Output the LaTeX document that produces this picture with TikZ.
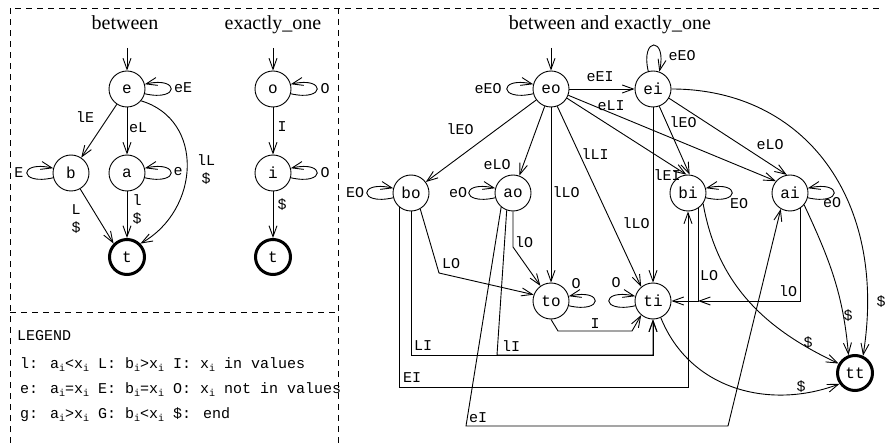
\documentclass[tikz,border=0pt]{standalone}
\usepackage{fontspec}
\setmainfont{Liberation Serif}
\newfontfamily\monofont{Liberation Mono}
\usetikzlibrary{arrows.meta}
\newcommand\sbi{\raisebox{-3pt}{\fontsize{10}{10}\selectfont i}}
\tikzset{
  st/.style={circle, draw, line width=0.9pt, minimum size=36pt, inner sep=0pt,
    font=\monofont\fontsize{16}{16}\selectfont},
  fin/.style={st, line width=3pt, minimum size=35pt},
  lbl/.style={font=\monofont\fontsize{15}{18}\selectfont, inner sep=0pt, align=center},
  arr/.style={-{Straight Barb[length=11pt,width=8pt]}, line width=0.9pt},
  panel/.style={line width=0.8pt, dash pattern=on 6pt off 5pt},
  ttl/.style={font=\fontsize{20}{24}\selectfont, anchor=base, inner sep=0pt},
  leg/.style={font=\monofont\fontsize{15}{18}\selectfont, anchor=base west, inner sep=0pt}
}
\begin{document}
\begin{tikzpicture}[x=1pt,y=-1pt]
\useasboundingbox (0,0) rectangle (890,443);
% panels
\draw[panel] (10,443) -- (10,8) -- (883,8);
\draw[panel] (338,8) -- (338,443);
\draw[panel] (10,312) -- (338,312);
% titles
\node[ttl] (t1) at (125,30) {between};
\node[ttl] (t2) at (273,30) {exactly\_one};
\node[ttl] (t3) at (610,30) {between and exactly\_one};
% legend
\node[leg] (lg0) at (17,340) {LEGEND};
\node[leg] (lg1) at (20,368) {l: a\sbi<x\sbi{} L: b\sbi>x\sbi{} I: x\sbi{} in values};
\node[leg] (lg2) at (20,393) {e: a\sbi=x\sbi{} E: b\sbi=x\sbi{} O: x\sbi{} not in values};
\node[leg] (lg3) at (20,418) {g: a\sbi>x\sbi{} G: b\sbi<x\sbi{} \$: end};

% ---------- between ----------
\node[st] (e) at (127,89) {e};
\node[st] (b) at (71,173) {b};
\node[st] (a) at (127,173) {a};
\node[fin] (t) at (127,257) {t};
\coordinate (ein) at (127,48);
\draw[arr] (ein) -- (e);
\draw[arr] (e.-15) .. controls +(35,8) and +(35,-8) .. (e.15) node[lbl, at={(183,88)}] {eE};
\draw[arr] (b.195) .. controls +(-35,8) and +(-35,-8) .. (b.165) node[lbl, at={(19,173)}] {E};
\draw[arr] (a.-15) .. controls +(35,8) and +(35,-8) .. (a.15) node[lbl, at={(178,172)}] {e};
\draw[arr] (e) -- (b) node[lbl, at={(85,117)}] {lE};
\draw[arr] (e) -- (a) node[lbl, at={(138,128)}] {eL};
\draw[arr] (e.-40) .. controls (205,120) and (200,210) .. (t.45) node[lbl, at={(206,170)}] {lL\\\$};
\draw[arr] (b.-60) -- (t.135) node[lbl, at={(76,219)}] {L\\\$};
\draw[arr] (a) -- (t) node[lbl, at={(137,210)}] {l\\\$};

% ---------- exactly_one ----------
\node[st] (o) at (273,89) {o};
\node[st] (i) at (273,173) {i};
\node[fin] (t2n) at (273,257) {t};
\coordinate (oin) at (273,48);
\draw[arr] (oin) -- (o);
\draw[arr] (o.-15) .. controls +(35,8) and +(35,-8) .. (o.15) node[lbl, at={(325,89)}] {O};
\draw[arr] (i.-15) .. controls +(35,8) and +(35,-8) .. (i.15) node[lbl, at={(325,173)}] {O};
\draw[arr] (o) -- (i) node[lbl, at={(282,127)}] {I};
\draw[arr] (i) -- (t2n) node[lbl, at={(282,205)}] {\$};

% ---------- product ----------
\node[st] (eo) at (551,89) {eo};
\node[st] (ei) at (653,89) {ei};
\node[st] (bo) at (411,193) {bo};
\node[st] (ao) at (513,193) {ao};
\node[st] (bi) at (688,193) {bi};
\node[st] (ai) at (790,193) {ai};
\node[st] (to) at (551,301) {to};
\node[st] (ti) at (653,301) {ti};
\node[fin] (tt) at (855,373) {tt};
\coordinate (eoin) at (551,48);
\draw[arr] (eoin) -- (eo);
% loops
\draw[arr] (eo.195) .. controls +(-35,8) and +(-35,-8) .. (eo.165) node[lbl, at={(488,89)}] {eEO};
\draw[arr] (ei.105) .. controls +(-8,-35) and +(8,-35) .. (ei.70) node[lbl, at={(682,56)}] {eEO};
\draw[arr] (bo.195) .. controls +(-35,8) and +(-35,-8) .. (bo.165) node[lbl, at={(355,193)}] {EO};
\draw[arr] (ao.195) .. controls +(-35,8) and +(-35,-8) .. (ao.165) node[lbl, at={(458,193)}] {eO};
\draw[arr] (bi.-15) .. controls +(35,8) and +(35,-8) .. (bi.15) node[lbl, at={(739,204)}] {EO};
\draw[arr] (ai.-15) .. controls +(35,8) and +(35,-8) .. (ai.15) node[lbl, at={(832,203)}] {eO};
\draw[arr] (to.-15) .. controls +(35,8) and +(35,-8) .. (to.15) node[lbl, at={(576,284)}] {O};
\draw[arr] (ti.195) .. controls +(-35,8) and +(-35,-8) .. (ti.165) node[lbl, at={(616,283)}] {O};
% from eo
\draw[arr] (eo) -- (ei) node[lbl, at={(600,77)}] {eEI};
\draw[arr] (eo.-20) -- (ai.140) node[lbl, at={(611,106)}] {eLI};
\draw[arr] (eo.-30) -- (bi.95) node[lbl, at={(667,175)}] {lEI};
\draw[arr] (eo) -- (bo) node[lbl, at={(460,129)}] {lEO};
\draw[arr] (eo) -- (ao) node[lbl, at={(497,165)}] {eLO};
\draw[arr] (eo) -- (to) node[lbl, at={(566,192)}] {lLO};
\draw[arr] (eo.-70) -- (ti.130) node[lbl, at={(595,154)}] {lLI};
% from ei
\draw[arr] (ei.-70) -- (bi.85) node[lbl, at={(683,122)}] {lEO};
\draw[arr] (ei.-30) -- (ai.100) node[lbl, at={(770,145)}] {eLO};
\draw[arr] (ei) -- (ti) node[lbl, at={(636,223)}] {lLO};
\draw[arr] (ei.east) .. controls (805,89) and (888,200) .. (tt.65) node[lbl, at={(881,302)}] {\$};
% from bo
\coordinate (LObend) at (439,273);
\draw[arr] (bo.-60) -- (LObend) -- (to.160) node[lbl, at={(451,264)}] {LO};
\coordinate (LIy) at (0,355);
\draw[arr] (bo.south) |- (ti.south |- LIy) -- (ti.south) node[lbl, at={(423,346)}] {LI};
\coordinate (EIy) at (0,387);
\draw[arr] (bo.-130) |- (bi.south |- EIy) -- (bi.south) node[lbl, at={(412,378)}] {EI};
% from ao
\coordinate (lObend) at (513,247);
\draw[arr] (ao.south) -- (lObend) -- (to.125) node[lbl, at={(524,242)}] {lO};
\coordinate (lIbend) at (497,355);
\draw[arr] (ao.-110) -- (lIbend) -| (ti.south) node[lbl, at={(511,346)}] {lI};
\coordinate (eIbend1) at (466,426);
\coordinate (eIbend2) at (728,426);
\draw[arr] (ao.-130) -- (eIbend1) -- (eIbend2) -- (ai.-120) node[lbl, at={(478,418)}] {eI};
% from to
\coordinate (Ib1) at (558,331);
\coordinate (Ib2) at (632,331);
\draw[arr] (to.south) -- (Ib1) -- (Ib2) -- (ti.-130) node[lbl, at={(595,324)}] {I};
% from bi, ai
\draw[arr] (bi.-57) |- (ti.east) node[lbl, at={(709,276)}] {LO};
\coordinate (lOend) at (bi.-57 |- ti.east);
\draw[arr] (ai.-57) |- (lOend) node[lbl, at={(788,291)}] {lO};
\draw[arr] (bi.-35) to[out=-80, in=155] (tt.150) node[lbl, at={(808,343)}] {\$};
\draw[arr] (ai.-40) to[out=-65, in=95] (tt.110) node[lbl, at={(848,316)}] {\$};
\draw[arr] (ti.-65) .. controls (690,390) and (770,410) .. (tt.-145) node[lbl, at={(801,387)}] {\$};
\end{tikzpicture}
\end{document}
